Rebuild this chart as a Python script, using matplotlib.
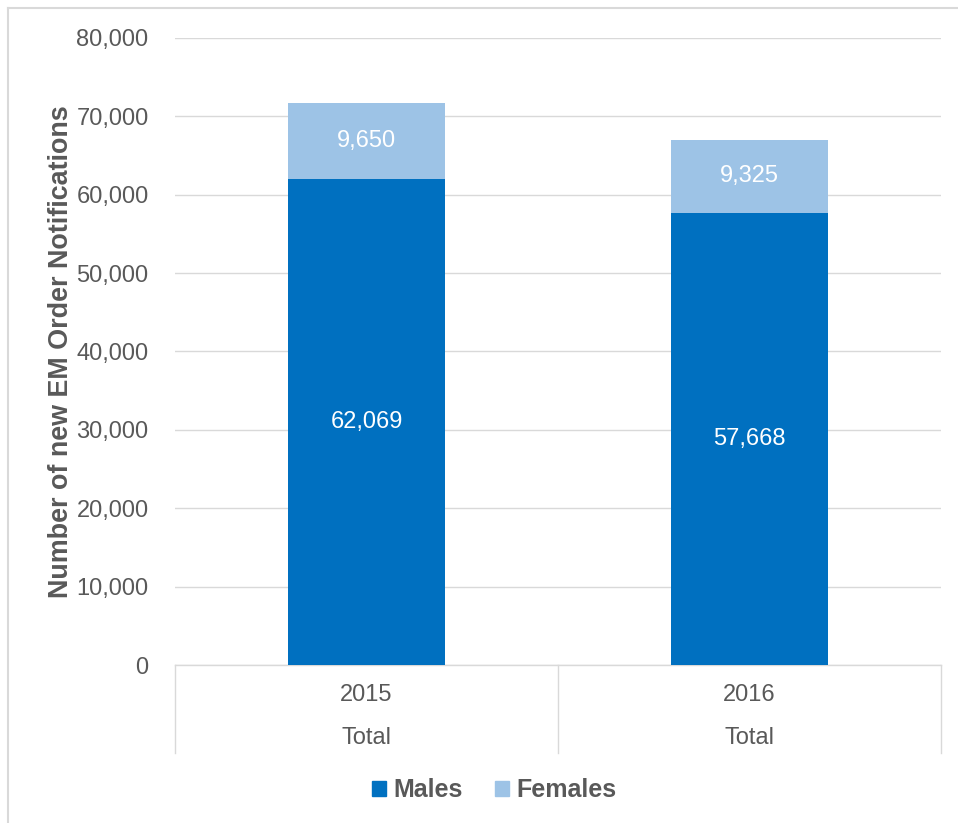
import matplotlib
matplotlib.use("Agg")
import matplotlib.pyplot as plt
from matplotlib.lines import Line2D
from matplotlib.patches import Patch
import matplotlib.transforms as mtransforms

plt.rcParams['font.family'] = ['Liberation Sans', 'DejaVu Sans']

years = ["2015", "2016"]
group_label = "Total"
males = [62069, 57668]
females = [9650, 9325]
yticks = [0, 10000, 20000, 30000, 40000, 50000, 60000, 70000, 80000]

male_color = "#0070C0"
female_color = "#9DC3E6"
text_color = "#595959"
grid_color = "#D9D9D9"

W, H = 958, 823
fig = plt.figure(figsize=(W / 100, H / 100), dpi=100)
ax = fig.add_axes([175 / W, 1 - 665 / H, (941 - 175) / W, (665 - 38) / H])

x = list(range(len(years)))
bw = 0.41
bm = ax.bar(x, males, width=bw, color=male_color, zorder=3, label="Males")
bf = ax.bar(x, females, width=bw, bottom=males, color=female_color, zorder=3, label="Females")

for i in x:
    ax.text(i, males[i] / 2, f"{males[i]:,}", ha="center", va="center",
            color="white", fontsize=17, zorder=4)
    ax.text(i, males[i] + females[i] / 2, f"{females[i]:,}", ha="center", va="center",
            color="white", fontsize=17, zorder=4)

ax.set_xlim(-0.5, len(years) - 0.5)
ax.set_ylim(0, 80000)
ax.set_yticks(yticks)
ax.set_yticklabels([f"{v:,}" for v in yticks])
ax.yaxis.grid(True, color=grid_color, linewidth=1, zorder=0)
ax.tick_params(axis="y", length=0, pad=19, labelsize=17, labelcolor=text_color)
ax.set_xticks(x)
ax.set_xticklabels(years)
ax.tick_params(axis="x", length=0, pad=14, labelsize=17, labelcolor=text_color)

for s in ["left", "right", "top"]:
    ax.spines[s].set_visible(False)
ax.spines["bottom"].set_color(grid_color)
ax.spines["bottom"].set_linewidth(1)

trans = mtransforms.blended_transform_factory(ax.transData, ax.transAxes)
for i in x:
    ax.text(i, -0.117, group_label, transform=trans, ha="center", va="center",
            fontsize=17, color=text_color)

sep_bottom = -(753 - 665) / (665 - 38)
for xs in [-0.5 + k for k in range(len(years) + 1)]:
    ax.add_line(Line2D([xs, xs], [0, sep_bottom], transform=trans, color=grid_color,
                       linewidth=1, clip_on=False))

ax.set_ylabel("Number of new EM Order Notifications", fontsize=19.4, fontweight="bold",
              color=text_color)
ax.yaxis.set_label_coords(-(175 - 74) / (941 - 175), 0.5)

handles = [Patch(color=male_color, label="Males"), Patch(color=female_color, label="Females")]
leg = fig.legend(handles=handles, loc="center", bbox_to_anchor=(494 / W, 1 - 790 / H),
                 ncol=2, frameon=False, handlelength=0.55, handleheight=0.55,
                 handletextpad=0.3, columnspacing=1.3,
                 prop={"weight": "bold", "size": 18})
for t in leg.get_texts():
    t.set_color(text_color)

# outer frame (top and left edges visible in reference)
fig.add_artist(Line2D([8 / W, 1], [1 - 8 / H, 1 - 8 / H], transform=fig.transFigure,
                      color=grid_color, linewidth=1.5))
fig.add_artist(Line2D([8 / W, 8 / W], [0, 1 - 8 / H], transform=fig.transFigure,
                      color=grid_color, linewidth=1.5))

fig.savefig("out.png", dpi=100)
